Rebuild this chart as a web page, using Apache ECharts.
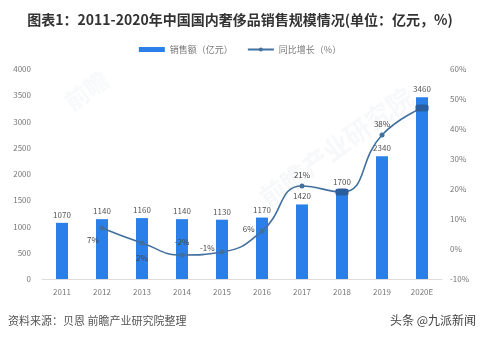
<!DOCTYPE html>
<html><head><meta charset="utf-8">
<script src="https://cdn.jsdelivr.net/npm/echarts@6/dist/echarts.min.js"></script>
<style>html,body{margin:0;padding:0;background:#fff}#c{width:480px;height:341px}</style>
</head><body><div id="c"></div>
<script>
const categories = ['2011','2012','2013','2014','2015','2016','2017','2018','2019','2020E'];
const salesValues = [1070,1140,1160,1140,1130,1170,1420,1700,2340,3460];
const growthValues = [null,7,2,-2,-1,6,21,19,38,47];
const leftTicks = {min:0,max:4000,interval:500};
const rightTicks = {min:-10,max:60,interval:10};

const F = '"Noto Sans CJK SC","Noto Sans",sans-serif';
const lineColor = '#41709f';
const barColor = '#2b7fe8';

const labelCfg = [
  null,
  {position:'bottom',offset:[-9,0]},
  {position:'bottom',offset:[0,3]},
  {position:'top',offset:[0,-2]},
  {position:'left',offset:[0,-4]},
  {position:'left',offset:[0,-2]},
  {position:'top'},
  {show:false},
  {position:'top'},
  {show:false}
];
const growthData = growthValues.map((v,i)=>{
  if(v===null) return null;
  const d = {value:v, label:Object.assign({}, labelCfg[i]||{})};
  if(i===7||i===9){ d.symbol='roundRect'; d.symbolSize=[13,7]; d.itemStyle={color:'#2c5e9e'}; }
  return d;
});

const chart = echarts.init(document.getElementById('c'));
chart.setOption({
  backgroundColor:'#fff',
  animation:false,
  title:{text:'图表1：2011-2020年中国国内奢侈品销售规模情况(单位：亿元，%)',left:'center',top:8,
    textStyle:{fontFamily:F,fontSize:14,fontWeight:'bold',color:'#333'}},
  legend:{top:40,left:'center',itemGap:14,textStyle:{fontFamily:F,fontSize:9,color:'#777'},
    data:[{name:'销售额（亿元）',icon:'rect',itemStyle:{color:barColor}},{name:'同比增长（%）'}],
    itemWidth:26,itemHeight:5},
  grid:{left:42,right:38,top:69,bottom:62},
  xAxis:{type:'category',data:categories,
    axisLine:{lineStyle:{color:'#ddd'}},axisTick:{show:false},
    axisLabel:{fontFamily:F,fontSize:8,color:'#777',margin:9}},
  yAxis:[
    {type:'value',min:leftTicks.min,max:leftTicks.max,interval:leftTicks.interval,
     splitLine:{show:false},axisLine:{show:false},axisTick:{show:false},
     axisLabel:{fontFamily:F,fontSize:8,color:'#777',margin:11,formatter:v=>String(v)}},
    {type:'value',min:rightTicks.min,max:rightTicks.max,interval:rightTicks.interval,
     splitLine:{show:false},axisLine:{show:false},axisTick:{show:false},
     axisLabel:{fontFamily:F,fontSize:8,color:'#777',margin:8,formatter:'{value}%'}}
  ],
  graphic:[
    {type:'text',left:8,top:315,style:{text:'资料来源：贝恩 前瞻产业研究院整理',font:'11px '+F,fill:'#555'}},
    {type:'text',right:4,top:314,style:{text:'头条 @九派新闻',font:'12px '+F,fill:'#444'}},
    {type:'text',x:255,y:190,rotation:Math.PI/5,style:{text:'前瞻产业研究院',font:'bold 26px '+F,fill:'rgba(190,195,205,0.12)'}},
    {type:'text',x:60,y:95,rotation:Math.PI/5,style:{text:'前瞻',font:'bold 24px '+F,fill:'rgba(190,195,205,0.10)'}}
  ],
  series:[
    {name:'销售额（亿元）',type:'bar',data:salesValues,barWidth:12,yAxisIndex:0,
     itemStyle:{color:barColor},
     label:{show:true,position:'top',distance:4,fontFamily:F,fontSize:8,color:'#555'}},
    {name:'同比增长（%）',type:'line',data:growthData,yAxisIndex:1,smooth:0.5,
     symbol:'circle',symbolSize:5,showSymbol:true,connectNulls:false,
     lineStyle:{color:lineColor,width:1.6},itemStyle:{color:lineColor},
     label:{show:true,fontFamily:F,fontSize:8,color:'#444',formatter:'{c}%'}}
  ]
});
</script></body></html>
